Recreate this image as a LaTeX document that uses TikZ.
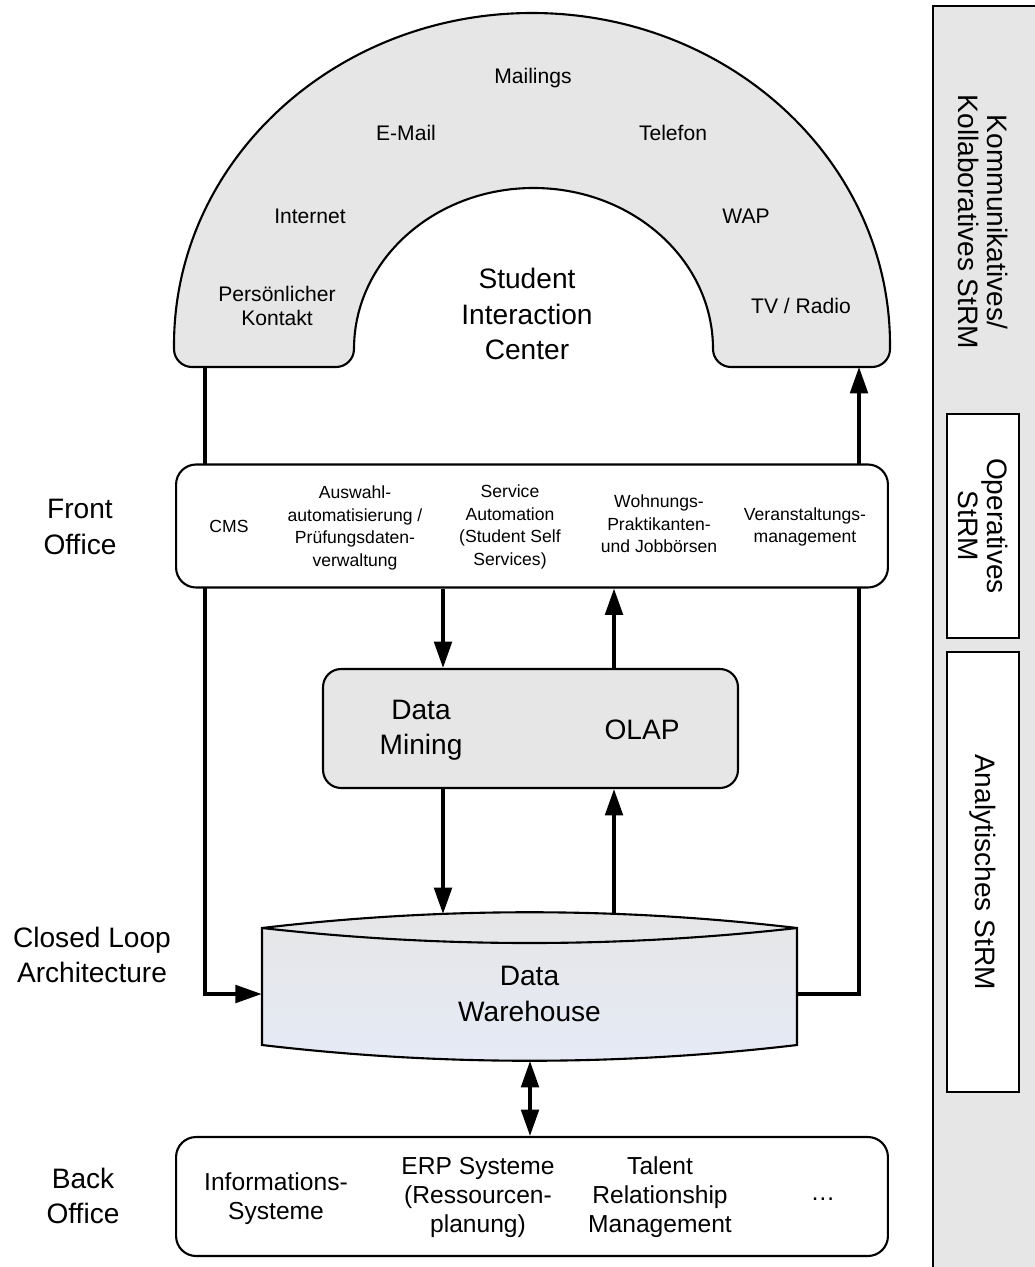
\documentclass[tikz,border=0pt]{standalone}
\usepackage{fontspec}
\setmainfont{Liberation Sans}
\usetikzlibrary{arrows.meta,positioning,calc}
\pgfdeclarelayer{bg}
\pgfsetlayers{bg,main}
\definecolor{boxgray}{RGB}{230,230,230}
\definecolor{dwblue}{RGB}{229,234,246}

\begin{document}
\begin{tikzpicture}[x=0.02cm, y=0.02cm,
  box/.style={rectangle, draw, line width=1.2pt, fill=white, rounded corners=0.4cm, minimum width=14.24cm, minimum height=2.46cm},
  lbl/.style={align=center, font=\fontsize{16}{20}\selectfont},
  small/.style={align=center, font=\fontsize{10}{12.8}\selectfont},
  chan/.style={align=center, font=\fontsize{12}{14}\selectfont},
  back/.style={align=center, font=\fontsize{14}{16.5}\selectfont},
  side/.style={align=center, rotate=-90, font=\fontsize{16}{17}\selectfont},
  arrow/.style={-{Triangle[length=15pt,width=10pt]}, line width=2pt},
  dblarrow/.style={{Triangle[length=15pt,width=10pt]}-{Triangle[length=15pt,width=10pt]}, line width=2pt}
]
  \useasboundingbox (0,0) rectangle (1034,-1267);

  % Student Interaction Center
  \filldraw[fill=boxgray, line width=1.2pt] (174,-345)
    arc[start angle=180, end angle=0, x radius=358, y radius=332] -- (890,-349)
    arc[start angle=0, end angle=-90, radius=18] -- (731,-367)
    arc[start angle=270, end angle=180, radius=18]
    arc[start angle=0, end angle=180, x radius=179.5, y radius=161]
    arc[start angle=0, end angle=-90, radius=18] -- (192,-367)
    arc[start angle=270, end angle=180, radius=18] -- cycle;
  \node[chan] (mail) at (533,-78) {Mailings};
  \node[chan] (email) at (406,-133) {E-Mail};
  \node[chan] (tel) at (673,-133) {Telefon};
  \node[chan] (inet) at (310,-216) {Internet};
  \node[chan] (wap) at (746,-216) {WAP};
  \node[chan] (pers) at (277,-306) {Persönlicher\\Kontakt};
  \node[chan] (tv) at (801,-306) {TV / Radio};
  \node[lbl] (sic) at (527,-314) {Student\\Interaction\\Center};
  \coordinate (archL) at (205,-367);
  \coordinate (archR) at (859,-367);

  % Front Office
  \node[box] (fo) at (532,-526) {};
  \node[small] (cms) at (229,-526) {CMS};
  \node[small] (ausw) at (355,-528) {Auswahl-\\automatisierung /\\Prüfungsdaten-\\verwaltung};
  \node[small] (serv) at (510,-527) {Service\\Automation\\(Student Self\\Services)};
  \node[small] (wohn) at (659,-524) {Wohnungs-\\Praktikanten-\\und Jobbörsen};
  \node[small] (vera) at (805,-527) {Veranstaltungs-\\management};

  % Data Mining / OLAP
  \node[box, fill=boxgray, rounded corners=0.36cm, minimum width=8.3cm, minimum height=2.38cm] (dm) at (530.5,-728.5) {};
  \node[lbl] (dmin) at (421,-730) {Data\\Mining};
  \node[lbl] (olap) at (642,-730) {OLAP};
  \coordinate (dml) at (443,0);
  \coordinate (dmr) at (614,0);

  % Data Warehouse
  \path[draw, line width=1.2pt, shading angle=30, top color=boxgray, bottom color=dwblue]
    (262,-928) -- (262,-1045) .. controls (440,-1066) and (619,-1066) .. (797,-1045)
    -- (797,-928) .. controls (619,-907) and (440,-907) .. cycle;
  \draw[line width=1.2pt] (262,-928) .. controls (440,-948) and (619,-948) .. (797,-928);
  \node[lbl, minimum width=10.7cm, inner sep=0pt] (dw) at (529.5,-994) {Data\\Warehouse};
  \coordinate (dwtl) at (443,-914);
  \coordinate (dwtr) at (614,-914);
  \coordinate (dwb) at (530,-1061);

  % Back Office
  \node[box, minimum height=2.38cm] (bo) at (532,-1196.5) {};
  \node[back] (info) at (276,-1199) {Informations-\\Systeme};
  \node[back] (erp) at (478,-1197) {ERP Systeme\\(Ressourcen-\\planung)};
  \node[back] (tal) at (660,-1197) {Talent\\Relationship\\Management};
  \node[back] (etc) at (823,-1199) {…};

  % labels left
  \node[lbl] (fol) at (80,-527) {Front\\Office};
  \node[lbl] (cla) at (92,-955) {Closed Loop\\Architecture};
  \node[lbl] (bol) at (83,-1196) {Back\\Office};

  % StRM panel
  \draw[fill=boxgray, line width=1.2pt] (933,-6) rectangle (1045,-1290);
  \draw[fill=white, line width=1.2pt] (947,-414) rectangle (1019,-638);
  \draw[fill=white, line width=1.2pt] (947,-652) rectangle (1019,-1092);
  \node[side] (komm) at (983,-222) {Kommunikatives/\\Kollaboratives StRM};
  \node[side] (oper) at (983,-526) {Operatives\\StRM};
  \node[side] (anal) at (983,-872) {Analytisches StRM};

  \begin{pgfonlayer}{bg}
    \draw[arrow] (archL) |- (dw.west);
    \draw[arrow] (dw.east) -| (archR);
  \end{pgfonlayer}
  \draw[arrow] (fo.south -| dml) -- (dm.north -| dml);
  \draw[arrow] (dm.north -| dmr) -- (fo.south -| dmr);
  \draw[arrow] (dm.south -| dml) -- (dwtl);
  \draw[arrow] (dwtr) -- (dm.south -| dmr);
  \draw[dblarrow] (dwb) -- (bo.north -| dwb);
\end{tikzpicture}
\end{document}
